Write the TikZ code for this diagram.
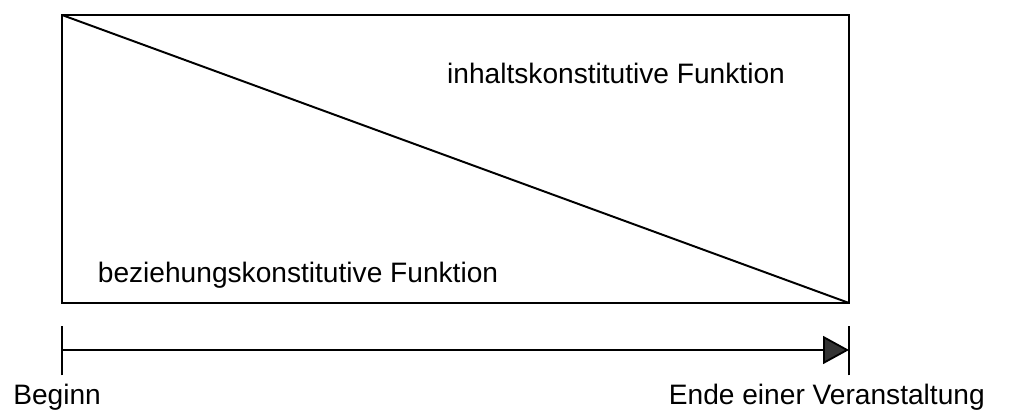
\documentclass[tikz,border=0pt]{standalone}
\usepackage{fontspec}
\setmainfont{Liberation Sans}
\usetikzlibrary{arrows.meta}

\tikzset{
  lbl/.style={anchor=base, inner sep=0pt, font=\fontsize{20}{24}\selectfont},
  frame/.style={line width=1.8pt},
  tick/.style={line width=2pt},
}

\begin{document}
\begin{tikzpicture}[x=0.025cm,y=0.025cm]
\useasboundingbox (0,0) rectangle (1010,418);
% box with the diagonal
\coordinate (tl) at (62,403);\coordinate (br) at (849,115);
\draw[frame] (tl) rectangle (br);
\draw[line width=1.4pt] (tl) -- (br);
\node[lbl] (inhalt) at (616,334) {inhaltskonstitutive Funktion};
\node[lbl] (bezieh) at (298,135) {beziehungskonstitutive Funktion};
% time line
\coordinate (start) at (62,68);\coordinate (end) at (849,68);
\draw[tick] ([yshift=-18]start) -- ([yshift=17]start);
\draw[tick] ([yshift=-18]end) -- ([yshift=17]end);
\draw[line width=1.3pt, -{Triangle[length=0.65cm,width=0.7cm,fill=black!80]}] (start) -- (end);
\node[lbl, anchor=base west] (beginn) at (13,13) {Beginn};
\node[lbl, anchor=base east] (ende) at (985,13) {Ende einer Veranstaltung};
\end{tikzpicture}
\end{document}
